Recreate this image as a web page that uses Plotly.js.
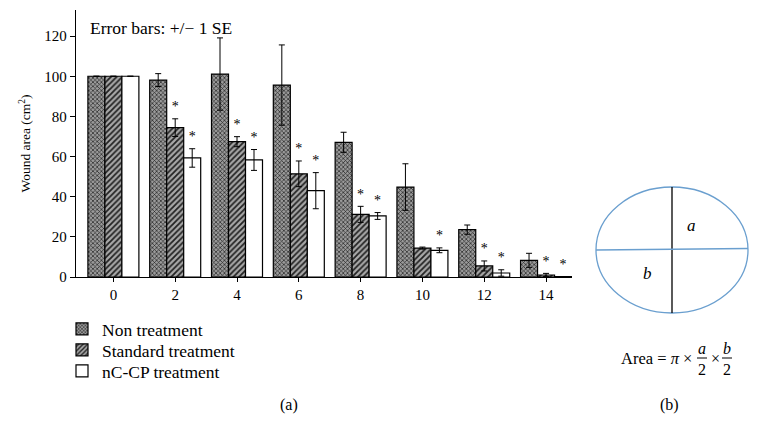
<!DOCTYPE html>
<html>
<head>
<meta charset="utf-8">
<script src="https://cdn.plot.ly/plotly-3.0.1.min.js"></script>
<style>
  html, body { margin: 0; padding: 0; background: #fff; }
  #chart { width: 759px; height: 437px; }
</style>
</head>
<body>
<div id="chart"></div>
<script>
// days after wounding
const days = [0, 2, 4, 6, 8, 10, 12, 14];

// wound area (cm2) and standard errors
const nonArea = [100, 98.1, 101.1, 95.6, 67.1, 44.8, 23.6, 8.3];
const nonErr = [0, 3.2, 18, 20, 5, 11.6, 2.3, 3.5];
const stdArea = [100, 74.4, 67.4, 51.4, 31.2, 14.4, 5.5, 1.0];
const stdErr = [0, 4.4, 2.5, 6.4, 4, 0.5, 2.5, 0.8];
const ncArea = [100, 59.3, 58.3, 43, 30.4, 13.3, 2.0, 0.2];
const ncErr = [0, 4.6, 5.2, 9, 1.7, 1.2, 1.6, 0];

// significance marks
const stdSig = ["", "*", "*", "*", "*", "", "*", "*"];
const ncSig = ["", "*", "*", "*", "*", "*", "*", "*"];

const serif = "Liberation Serif, Times New Roman, serif";
const bargap = 0.175;
const barW = 2 * (1 - bargap) / 3; // width of one bar in x units

function errBars(arr) {
  return { type: "data", array: arr, visible: true, color: "#000", thickness: 1, width: 3 };
}

const traces = [
  {
    type: "bar", name: "Non treatment", x: days, y: nonArea, legend: "legend",
    error_y: errBars(nonErr),
    marker: {
      color: "#8a8a8a",
      line: { color: "#000", width: 1.2 },
      pattern: { shape: "x", size: 3, solidity: 0.4, fgcolor: "#222", bgcolor: "#9a9a9a" }
    }
  },
  {
    type: "bar", name: "Standard treatment", x: days, y: stdArea, legend: "legend2",
    error_y: errBars(stdErr),
    marker: {
      color: "#777",
      line: { color: "#000", width: 1.2 },
      pattern: { shape: "/", size: 4, solidity: 0.45, fgcolor: "#222", bgcolor: "#a8a8a8" }
    }
  },
  {
    type: "bar", name: "nC-CP treatment", x: days, y: ncArea, legend: "legend3",
    error_y: errBars(ncErr),
    marker: { color: "#fff", line: { color: "#000", width: 1.2 } }
  },
  // asterisks above the error bars (standard = middle bar, nC-CP = right bar)
  {
    type: "scatter", mode: "text", showlegend: false, hoverinfo: "skip",
    x: days, y: stdArea.map((v, i) => v + stdErr[i] + 2),
    text: stdSig, textposition: "top center",
    textfont: { family: serif, size: 14, color: "#000" }
  },
  {
    type: "scatter", mode: "text", showlegend: false, hoverinfo: "skip",
    x: days.map(d => d + barW), y: ncArea.map((v, i) => v + ncErr[i] + 2),
    text: ncSig, textposition: "top center",
    textfont: { family: serif, size: 14, color: "#000" }
  }
];

// paper coordinates of the plot area: left 76px, right 572px, top 10px, bottom 277px
const px = (x) => (x - 76) / 496;
const py = (y) => (277 - y) / 267;
const blue = "#6a9fcf";

function legendAt(yc) {
  return {
    x: px(62), xanchor: "left", y: py(yc), yanchor: "middle",
    font: { family: serif, size: 17.5, color: "#000" },
    itemwidth: 30, bgcolor: "rgba(0,0,0,0)"
  };
}

function note(x, y, text, size, extra) {
  return Object.assign({
    xref: "paper", yref: "paper", x: px(x), y: py(y), text: text, showarrow: false,
    xanchor: "center", yanchor: "middle", font: { family: serif, size: size, color: "#000" }
  }, extra || {});
}

const layout = {
  width: 759, height: 437,
  margin: { l: 76, r: 187, t: 10, b: 160 },
  paper_bgcolor: "#fff", plot_bgcolor: "#fff",
  font: { family: serif, size: 15, color: "#000" },
  barmode: "group", bargap: bargap, bargroupgap: 0,
  showlegend: true,
  legend: legendAt(329),
  legend2: legendAt(350),
  legend3: legendAt(371),
  xaxis: {
    range: [-1.21, 14.84], tickvals: days, ticktext: days.map(String),
    showline: true, linecolor: "#000", linewidth: 1.2, ticks: "outside", ticklen: 4,
    tickcolor: "#000", showgrid: false, zeroline: false,
    tickfont: { family: serif, size: 15 }
  },
  yaxis: {
    range: [0, 133], tickvals: [0, 20, 40, 60, 80, 100, 120],
    showline: true, linecolor: "#000", linewidth: 1.2, ticks: "outside", ticklen: 5,
    tickcolor: "#000", showgrid: false, zeroline: false,
    tickfont: { family: serif, size: 15 },
    title: { text: "Wound area (cm<sup>2</sup>)", font: { family: serif, size: 13.5 }, standoff: 10 }
  },
  shapes: [
    { type: "circle", xref: "paper", yref: "paper", x0: px(596), x1: px(748), y0: py(313), y1: py(187),
      line: { color: blue, width: 1.3 } },
    { type: "line", xref: "paper", yref: "paper", x0: px(672), x1: px(672), y0: py(313), y1: py(187),
      line: { color: "#000", width: 1.3 } },
    { type: "line", xref: "paper", yref: "paper", x0: px(596), x1: px(748), y0: py(250), y1: py(248.5),
      line: { color: blue, width: 1.3 } },
    // fraction bars of the formula
    { type: "line", xref: "paper", yref: "paper", x0: px(697), x1: px(707), y0: py(358), y1: py(358),
      line: { color: "#000", width: 1 } },
    { type: "line", xref: "paper", yref: "paper", x0: px(722), x1: px(732), y0: py(358), y1: py(358),
      line: { color: "#000", width: 1 } }
  ],
  annotations: [
    note(88, 28, "Error bars: +/\u2212 1 SE", 17.5, { xanchor: "left" }),
    note(289, 405, "(a)", 16),
    note(669, 405, "(b)", 16),
    note(691, 225, "<i>a</i>", 17),
    note(647, 273, "<i>b</i>", 17),
    note(694, 359, "Area = <i>\u03c0</i> \u00d7", 16.5, { xanchor: "right" }),
    note(702, 348, "<i>a</i>", 16),
    note(702, 369, "2", 16),
    note(715, 359, "\u00d7", 16),
    note(727, 348, "<i>b</i>", 16),
    note(727, 369, "2", 16)
  ]
};

Plotly.newPlot("chart", traces, layout, { displayModeBar: false, staticPlot: true });
</script>
</body>
</html>
